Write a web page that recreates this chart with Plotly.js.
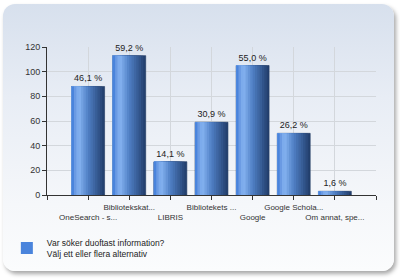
<!DOCTYPE html>
<html><head><meta charset="utf-8">
<script src="https://cdn.plot.ly/plotly-3.0.1.min.js"></script>
<style>
html,body{margin:0;padding:0;background:#fff;width:400px;height:280px;overflow:hidden;}
#panel{position:absolute;left:3px;top:4px;width:391px;height:267px;border-radius:12px;
background:linear-gradient(to bottom,#d7e0ed 0%,#e8edf5 35%,#f5f7fa 75%,#fbfcfd 100%);
box-shadow:2px 3px 4px rgba(0,0,0,0.35);}
#chart{position:absolute;left:0;top:0;width:400px;height:280px;}
</style></head>
<body><div id="panel"></div><div id="chart"></div>
<script>
const categories = ["OneSearch - s...", "Bibliotekskat...", "LIBRIS", "Bibliotekets ...", "Google", "Google Schola...", "Om annat, spe..."];
const counts = [88, 113, 27, 59, 105, 50, 3];
const percentLabels = ["46,1 %", "59,2 %", "14,1 %", "30,9 %", "55,0 %", "26,2 %", "1,6 %"];
const seriesName = "Var söker duoftast information?<br>Välj ett eller flera alternativ";
const yTicks = [0, 20, 40, 60, 80, 100, 120];

const xs = categories.map((c, i) => i);
const BAR_W = 0.8;
const N = 14;
function hex(c){return [parseInt(c.slice(1,3),16),parseInt(c.slice(3,5),16),parseInt(c.slice(5,7),16)];}
const stops = [[0,"#4f82d4"],[0.22,"#86b4f2"],[0.5,"#4f7fc4"],[1,"#213c69"]];
function colorAt(t){
  for(let i=0;i<stops.length-1;i++){
    const [t0,c0]=stops[i],[t1,c1]=stops[i+1];
    if(t<=t1){const f=(t-t0)/(t1-t0);const a=hex(c0),b=hex(c1);
      return "rgb("+a.map((v,j)=>Math.round(v+(b[j]-v)*f)).join(",")+")";}
  }
  return stops[stops.length-1][1];
}
const traces = [];
for(let k=0;k<N;k++){
  const frac=(N-k)/N;
  const j=N-k-1;
  const t=(j+0.5)/N;
  const tr={type:"bar",x:xs,y:counts,width:BAR_W*frac,offset:-BAR_W/2,
    marker:{color:colorAt(t),line:{width:0}},showlegend:false,hoverinfo:"skip"};
  if(k===0){
    tr.marker.line={width:0.6,color:"#1d355e"};
    tr.text=percentLabels;tr.textposition="outside";tr.constraintext="none";tr.cliponaxis=false;
    tr.textfont={family:"Liberation Sans, Arial, sans-serif",size:9,color:"#222"};
  }
  if(k===N-1){tr.showlegend=true;tr.name=seriesName;tr.marker.color="#4a84dc";}
  traces.push(tr);
}
const tickvals=[-1].concat(xs).concat([7]);
const ticktext=[""].concat(categories.map((c,i)=> i%2===0 ? "<br>"+c : c)).concat([""]);
const layout={
  width:400,height:280,margin:{l:47,r:24,t:47,b:85,autoexpand:false},
  paper_bgcolor:"rgba(0,0,0,0)",plot_bgcolor:"rgba(0,0,0,0)",
  barmode:"overlay",
  font:{family:"Liberation Sans, Arial, sans-serif",size:9,color:"#333"},
  xaxis:{range:[-1,7],tickvals:tickvals,ticktext:ticktext,tickangle:0,
    showgrid:true,gridcolor:"#d3d7dc",gridwidth:1,zeroline:false,
    showline:true,linecolor:"#333",linewidth:1,ticks:"outside",ticklen:4,tickcolor:"#333",
    tickfont:{size:8,color:"#333"},fixedrange:true},
  yaxis:{range:[0,120],tickvals:yTicks,showgrid:true,gridcolor:"#d3d7dc",zeroline:false,
    showline:true,linecolor:"#333",linewidth:1,ticks:"outside",ticklen:4,tickcolor:"#333",
    tickfont:{size:9,color:"#333"},fixedrange:true},
  showlegend:true,
  legend:{x:-0.122,y:-0.24,xanchor:"left",yanchor:"top",bgcolor:"rgba(0,0,0,0)",
    font:{size:8.5,color:"#222"},itemclick:false}
};
Plotly.newPlot("chart",traces,layout,{displayModeBar:false,staticPlot:true});
</script></body></html>
